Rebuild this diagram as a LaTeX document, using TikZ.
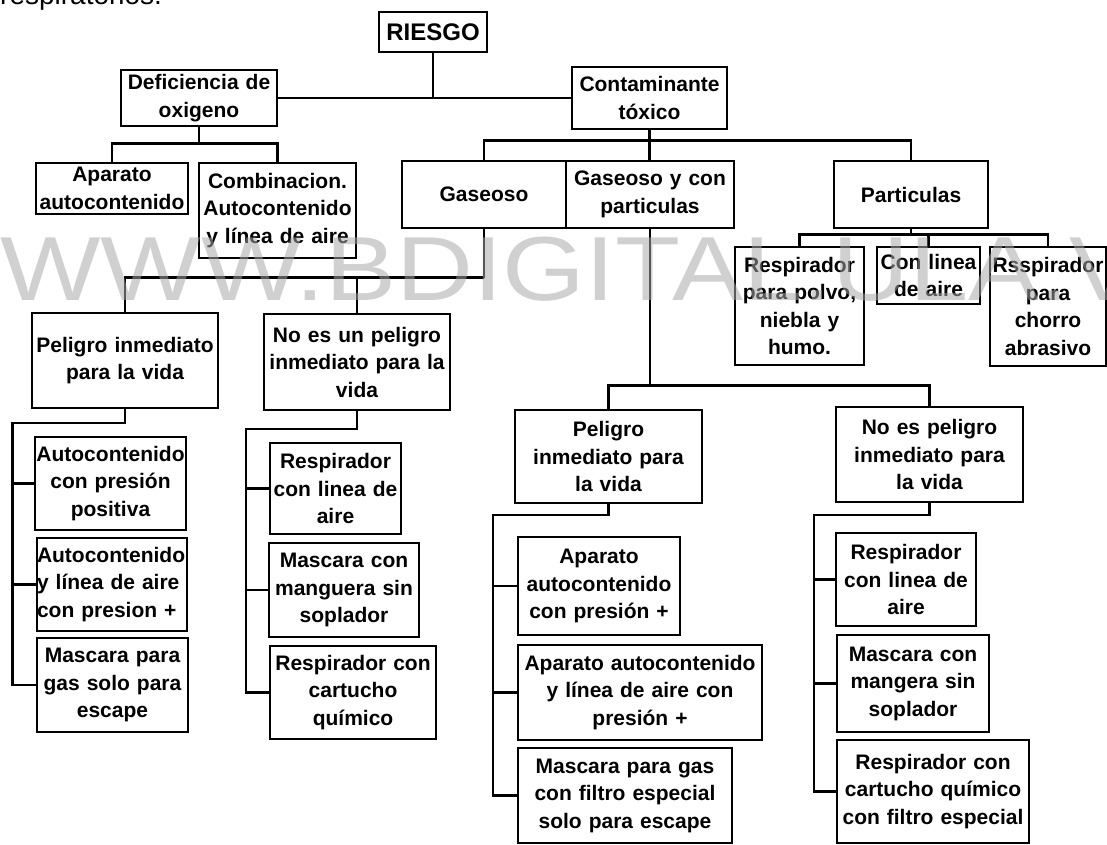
\documentclass[tikz,border=0pt]{standalone}
\usepackage{fontspec}
\setmainfont{Liberation Sans}
\usetikzlibrary{calc}
\newcommand{\boxfont}{\bfseries\fontsize{21}{27.5}\selectfont}
\newcommand{\titlefont}{\bfseries\fontsize{24}{28}\selectfont}
\newcommand{\markfont}{\fontsize{91}{91}\selectfont}

\begin{document}
\begin{tikzpicture}[x=1pt,y=-1pt]
\tikzset{
	box node/.style = {draw, line width=1.1pt, inner sep=0pt, align=center, font=\boxfont},
	boxsize/.style 2 args = {minimum width=#1pt, text width=#1pt, minimum height=#2pt},
	link/.style = {line width=2.8pt},
	mark node/.style = {inner sep=0pt, anchor=base west, font=\markfont, text=black!34, text opacity=0.53, xscale=1.17}
}
\fill[white](0,0)rectangle(1107,844);
\useasboundingbox(0,0)rectangle(1107,844);
\node(heading)[inner sep=0pt, anchor=base west, font=\fontsize{28}{28}\selectfont]at(0,4){respiratorios.};
\node(riesgo)[box node, boxsize={108}{40}, font=\titlefont]at(433,32){RIESGO};
\node(deficiencia)[box node, boxsize={156}{56}]at(199,98){Deficiencia de\\oxigeno};
\node(contaminante)[box node, boxsize={155}{62}]at(649.5,98){Contaminante\\tóxico};
\node(aparato)[box node, boxsize={152}{51}]at(112,188.5){Aparato\\autocontenido};
\node(combinacion)[box node, boxsize={157}{95}]at(277.5,210.5){Combinacion.\\Autocontenido\\y línea de aire};
\node(gaseoso)[box node, boxsize={164}{67}]at(484,194.5){Gaseoso};
\node(gasconpart)[box node, boxsize={168}{67}]at(650,194.5){Gaseoso y con\\particulas};
\node(particulas)[box node, boxsize={154}{67}]at(911,194.5){Particulas};
\node(polvo)[box node, boxsize={129}{118}]at(799.5,306){Respirador\\para polvo,\\niebla y\\humo.};
\node(conlinea)[box node, boxsize={103}{57}]at(928.5,275.5){Con linea\\de aire};
\node(chorro)[box node, boxsize={116}{119}]at(1048,306.5){Rsspirador\\para\\chorro\\abrasivo};
\node(peligroA)[box node, boxsize={186}{95}]at(125,360.5){Peligro inmediato\\para la vida};
\node(noesA)[box node, boxsize={186}{96}]at(357,362){No es un peligro\\inmediato para la\\vida};
\node(autopos)[box node, boxsize={151}{93}]at(110.5,483.5){Autocontenido\\con presión\\positiva};
\node(autolinea)[box node, boxsize={150}{93}, align=left]at(112,584.5){Autocontenido\\y línea de aire\\con presion +};
\node(mascaraesc)[box node, boxsize={151}{94}]at(112.5,685){Mascara para\\gas solo para\\escape};
\node(lineaA)[box node, boxsize={131}{91}]at(335.5,488.5){Respirador\\con linea de\\aire};
\node(mangueraA)[box node, boxsize={150}{94}]at(344,590){Mascara con\\manguera sin\\soplador};
\node(cartuchoA)[box node, boxsize={166}{93}]at(353,692.5){Respirador con\\cartucho\\químico};
\node(peligroB)[box node, boxsize={187}{93}]at(608.5,456.5){Peligro\\inmediato para\\la vida};
\node(noesB)[box node, boxsize={187}{95}]at(929.5,454.5){No es peligro\\inmediato para\\la vida};
\node(aparatopres)[box node, boxsize={162}{98}]at(599,586){Aparato\\autocontenido\\con presión +};
\node(aparatolinea)[box node, boxsize={244}{95}]at(640,692.5){Aparato autocontenido\\y línea de aire con\\presión +};
\node(mascarafiltro)[box node, boxsize={214}{95}]at(625,795.5){Mascara para gas\\con filtro especial\\solo para escape};
\node(lineaB)[box node, boxsize={140}{93}]at(906,579.5){Respirador\\con linea de\\aire};
\node(mangeraB)[box node, boxsize={152}{97}]at(913,683.5){Mascara con\\mangera sin\\soplador};
\node(cartuchoB)[box node, boxsize={192}{103}]at(933,791.5){Respirador con\\cartucho químico\\con filtro especial};

% first levels
\draw[link](riesgo.south)--(riesgo.south|-deficiencia.east);
\draw[link](deficiencia.east)--(contaminante.west);
\draw[link](deficiencia.south)--++(0,17)coordinate(def fork);
\draw[link](aparato.north)|-(def fork)-|(combinacion.north);
\draw[link](contaminante.south)--++(0,11)coordinate(cont fork);
\draw[link](gaseoso.north)|-(cont fork)-|(particulas.north);
\draw[link](cont fork)--(cont fork|-gasconpart.north);
\draw[link](particulas.south)--++(0,6)coordinate(part fork);
\draw[link](polvo.north)|-(part fork)-|(chorro.north);
\draw[link](part fork)-|(conlinea.north);
\draw[link](gaseoso.south)--++(0,49)coordinate(gas fork);
\draw[link](peligroA.north)|-(gas fork)-|(noesA.north);
\draw[link](gasconpart.south)--++(0,157)coordinate(gcp fork);
\draw[link](peligroB.north)|-(gcp fork)-|(noesB.north);

% trunks on the left of each column
\coordinate(trunkA)at(12.5,423);
\draw[link](peligroA.south)|-(trunkA)|-(mascaraesc.west);
\draw[link](trunkA)|-(autopos.west);
\draw[link](trunkA)|-(autolinea.west);
\coordinate(trunkB)at(246,429);
\draw[link](noesA.south)|-(trunkB)|-(cartuchoA.west);
\draw[link](trunkB)|-(lineaA.west);
\draw[link](trunkB)|-(mangueraA.west);
\coordinate(trunkC)at(493,515);
\draw[link](peligroB.south)|-(trunkC)|-(mascarafiltro.west);
\draw[link](trunkC)|-(aparatopres.west);
\draw[link](trunkC)|-(aparatolinea.west);
\coordinate(trunkD)at(814,515);
\draw[link](noesB.south)|-(trunkD)|-(cartuchoB.west);
\draw[link](trunkD)|-(lineaB.west);
\draw[link](trunkD)|-(mangeraB.west);

\node(watermark)[mark node]at(0,300){WWW.BDIGITAL.ULA.VE};
\end{tikzpicture}
\end{document}
